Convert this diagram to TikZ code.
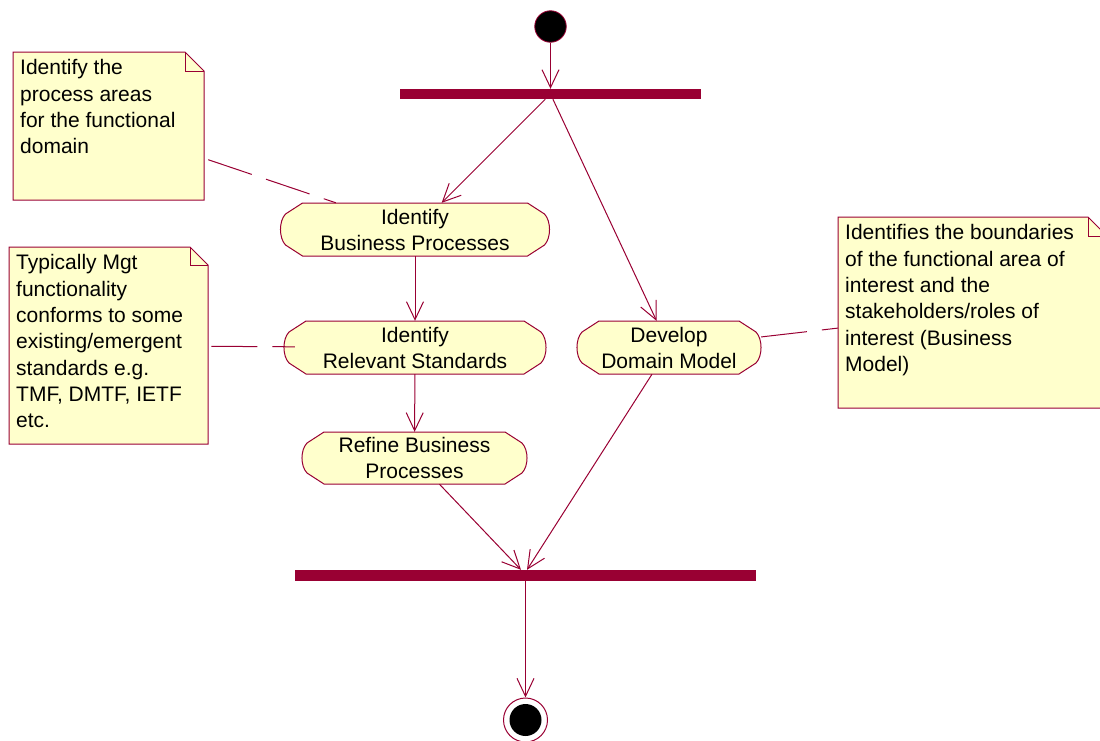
\documentclass[tikz,border=0pt]{standalone}
\usepackage{fontspec}
\setmainfont{Liberation Sans}
\usetikzlibrary{arrows.meta}
\definecolor{umlred}{HTML}{990033}
\definecolor{umlfill}{HTML}{FFFFCC}
\tikzset{
 flow/.style={draw=umlred, line width=1pt, -{Straight Barb[length=18pt,width=17pt,line width=1pt]}},
 anchorline/.style={draw=umlred, line width=1pt, dash pattern=on 46pt off 15pt},
 actshape/.style={draw=umlred, fill=umlfill, line width=1pt},
 acttext/.style={inner sep=0pt, align=center, font=\fontsize{21}{26}\selectfont},
 notebox/.style={inner sep=0pt, anchor=north west},
 noteshape/.style={draw=umlred, fill=umlfill, line width=1pt, line join=miter},
 notetext/.style={inner sep=0pt, anchor=north west, align=left, font=\fontsize{21}{26.3}\selectfont},
 syncbar/.style={fill=umlred, inner sep=0pt},
}
\newcommand\activity[6]{%
 \path[actshape] (#2-#4+22,#3-#5) -- (#2+#4-22,#3-#5) -- (#2+#4-5,#3-#5+11)
   .. controls (#2+#4+1.7,#3-#5+18) and (#2+#4+1.7,#3+#5-18) .. (#2+#4-5,#3+#5-11)
   -- (#2+#4-22,#3+#5) -- (#2-#4+22,#3+#5) -- (#2-#4+5,#3+#5-11)
   .. controls (#2-#4-1.7,#3+#5-18) and (#2-#4-1.7,#3-#5+18) .. (#2-#4+5,#3-#5+11) -- cycle;
 \node[acttext, minimum width={2*#4}, minimum height={2*#5}] (#1) at (#2,#3) {#6};}
\newcommand\umlnote[7]{%
 \path[noteshape] (#2,#3) -- (#4-#6,#3) -- (#4,#3+#6) -- (#4,#5) -- (#2,#5) -- cycle;
 \path[noteshape, fill=none] (#4-#6,#3) -- (#4-#6,#3+#6) -- (#4,#3+#6);
 \node[notebox, minimum width={#4-#2}, minimum height={#5-#3}] (#1) at (#2,#3) {};
 \node[notetext] (#1t) at (#2+7,#3+7.5) {#7};}
\begin{document}
\begin{tikzpicture}[x=1pt,y=-1pt]
\useasboundingbox (0,0) rectangle (1100,740);
\clip (0,0) rectangle (1100,740);
% notes
\umlnote{n1}{13}{52}{204}{200}{19}{Identify the\\process areas\\for the functional\\domain}
\umlnote{n2}{9}{247}{208}{444}{18}{Typically Mgt\\functionality\\conforms to some\\existing/emergent\\standards e.g.\\TMF, DMTF, IETF\\etc.}
\umlnote{n3}{838}{217}{1107}{408}{19}{Identifies the boundaries\\of the functional area of\\interest and the\\stakeholders/roles of\\interest (Business\\Model)}
% activities
\activity{ibp}{415}{229.5}{134.5}{26.5}{Identify\\Business Processes}
\activity{irs}{415}{347.5}{131}{26.5}{Identify\\Relevant Standards}
\activity{rbp}{414.5}{458}{112.5}{26}{Refine Business\\Processes}
\activity{ddm}{669}{347.5}{92}{26.5}{Develop\\Domain Model}
% start, bars, end
\node[circle, fill=black, draw=umlred, line width=0.8pt, minimum size=31.5, inner sep=0pt] (start) at (550.5,26.5) {};
\node[syncbar, minimum width=301, minimum height=10] (bar1) at (550.5,94) {};
\node[syncbar, minimum width=461, minimum height=11] (bar2) at (525.5,575.5) {};
\node[circle, draw=umlred, line width=1pt, fill=white, minimum size=44, inner sep=0pt] (end) at (525.5,720) {};
\fill[black] (end.center) circle[radius=16];
% connectors
\draw[anchorline, shorten <=4pt] (n1) -- (ibp);
\draw[anchorline, shorten <=3pt, shorten >=-11pt] (n2) -- (irs);
\draw[anchorline] (ddm) -- (n3);
\draw[flow] (start) -- (bar1);
\draw[flow] (bar1) -- (ibp);
\draw[flow] (bar1) -- (ddm);
\draw[flow] (ibp) -- (irs);
\draw[flow] (irs) -- (rbp);
\draw[flow] (rbp) -- ([xshift=-4.5pt]bar2.north);
\draw[flow] (ddm) -- ([xshift=1.5pt]bar2.north);
\draw[flow] (bar2) -- (end);
\end{tikzpicture}
\end{document}
